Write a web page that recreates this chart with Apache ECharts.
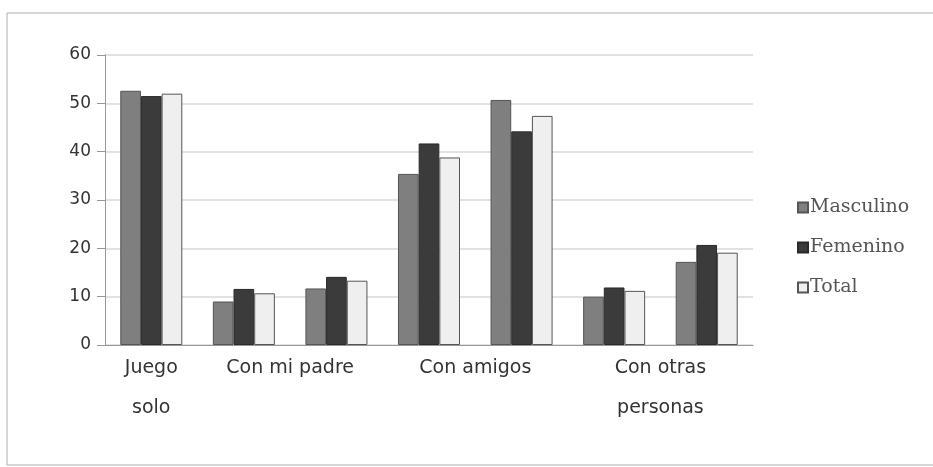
<!DOCTYPE html>
<html>
<head>
<meta charset="utf-8">
<script src="https://cdn.jsdelivr.net/npm/echarts@6/dist/echarts.min.js"></script>
<style>
  html, body { margin: 0; padding: 0; background: #fff; overflow: hidden; }
  #main { width: 933px; height: 467px; }
</style>
</head>
<body>
<div id="main"></div>
<script>
// 7 grupos de barras, las etiquetas del eje solo aparecen en algunos
const categories = ['Juego solo', 'Con mi padre 1', 'Con mi padre 2', 'Con amigos 1', 'Con amigos 2', 'Con otras personas 1', 'Con otras personas 2'];
const centerLabels = ['Juego\nsolo', '', '', '', '', '', ''];
const boundaryLabels = ['', '', 'Con mi padre', '', 'Con amigos', '', 'Con otras\npersonas', ''];
const masculino = [52.6, 9.0, 11.7, 35.4, 50.7, 10.0, 17.2];
const femenino = [51.5, 11.6, 14.1, 41.7, 44.2, 11.9, 20.7];
const total = [52.0, 10.7, 13.3, 38.8, 47.4, 11.2, 19.1];
const yTicks = [0, 10, 20, 30, 40, 50, 60];

const chart = echarts.init(document.getElementById('main'));
const xFont = { fontFamily: 'DejaVu Sans', fontSize: 19, color: '#333' };
const frame = { stroke: '#c8c8c8', lineWidth: 1.5 };

chart.setOption({
  animation: false,
  graphic: [
    { type: 'line', shape: { x1: 7, y1: 13, x2: 960, y2: 13 }, style: frame },
    { type: 'line', shape: { x1: 7, y1: 13, x2: 7, y2: 465 }, style: frame },
    { type: 'line', shape: { x1: 7, y1: 465, x2: 960, y2: 465 }, style: frame }
  ],
  grid: { left: 105, right: 180, top: 55, bottom: 122 },
  legend: {
    orient: 'vertical',
    left: 792, top: 193,
    icon: 'rect',
    itemWidth: 10, itemHeight: 10, itemGap: 21,
    textStyle: { fontFamily: 'DejaVu Serif', fontSize: 19, color: '#555', padding: [0, 0, 0, -3] },
    data: ['Masculino', 'Femenino', 'Total']
  },
  xAxis: [{
    type: 'category',
    data: categories,
    axisLine: { lineStyle: { color: '#999' } },
    axisTick: { length: 6, lineStyle: { color: '#999' } },
    axisLabel: Object.assign({ margin: 3, lineHeight: 40, interval: 0,
      formatter: (v, i) => centerLabels[i] }, xFont)
  }, {
    type: 'category',
    position: 'bottom',
    boundaryGap: false,
    data: boundaryLabels,
    axisLine: { show: false },
    axisTick: { show: false },
    axisLabel: Object.assign({ margin: 3, lineHeight: 40, interval: 0 }, xFont)
  }],
  yAxis: {
    type: 'value',
    min: yTicks[0], max: yTicks[yTicks.length - 1], interval: 10,
    axisLine: { show: true, lineStyle: { color: '#999' } },
    axisTick: { show: true, length: 8, lineStyle: { color: '#999' } },
    splitLine: { lineStyle: { color: '#d9d9d9', width: 1.5 } },
    axisLabel: { margin: 14, fontFamily: 'DejaVu Sans', fontSize: 17, color: '#333' }
  },
  series: [
    { name: 'Masculino', type: 'bar', data: masculino, barGap: 0, barCategoryGap: '33%',
      itemStyle: { color: '#7f7f7f', borderColor: '#555', borderWidth: 1 } },
    { name: 'Femenino', type: 'bar', data: femenino, barGap: 0, barCategoryGap: '33%',
      itemStyle: { color: '#3b3b3b', borderColor: '#2a2a2a', borderWidth: 1 } },
    { name: 'Total', type: 'bar', data: total, barGap: 0, barCategoryGap: '33%',
      itemStyle: { color: '#efefef', borderColor: '#555', borderWidth: 1 } }
  ]
});
</script>
</body>
</html>
